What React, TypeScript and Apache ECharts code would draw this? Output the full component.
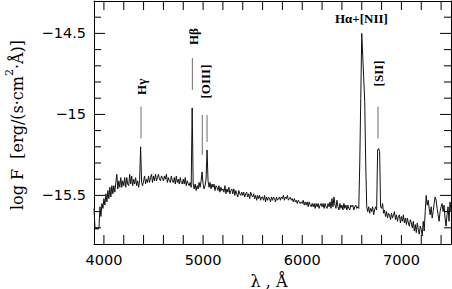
import React, { useEffect, useRef } from "react";
import * as echarts from "echarts";

// Spectrum sampled every 10 Å from 3900 Å
const lambdaStart = 3900;
const lambdaStep = 10;
const logFlux: number[] = [
  -15.58, -15.70, -15.71, -15.70, -15.71, -15.70, -15.57, -15.63, -15.55, -15.58,
  -15.52, -15.56, -15.49, -15.54, -15.47, -15.52, -15.45, -15.51, -15.44, -15.49,
  -15.44, -15.48, -15.42, -15.37, -15.46, -15.41, -15.45, -15.39, -15.45, -15.41,
  -15.44, -15.39, -15.45, -15.39, -15.43, -15.44, -15.37, -15.43, -15.38, -15.44,
  -15.40, -15.43, -15.39, -15.44, -15.41, -15.45, -15.41, -15.20, -15.42, -15.44,
  -15.41, -15.38, -15.43, -15.40, -15.42, -15.38, -15.42, -15.39, -15.37, -15.42,
  -15.38, -15.41, -15.37, -15.41, -15.39, -15.37, -15.40, -15.41, -15.38, -15.39,
  -15.41, -15.38, -15.40, -15.37, -15.42, -15.39, -15.41, -15.42, -15.38, -15.41,
  -15.42, -15.39, -15.43, -15.38, -15.42, -15.40, -15.43, -15.39, -15.42, -15.43,
  -15.40, -15.43, -15.39, -15.44, -15.41, -15.43, -15.44, -15.42, -15.45, -14.96,
  -15.43, -15.46, -15.43, -15.47, -15.44, -15.46, -15.42, -15.45, -15.41, -15.355,
  -15.43, -15.46, -15.44, -15.40, -15.22, -15.41, -15.45, -15.42, -15.46, -15.43,
  -15.45, -15.43, -15.47, -15.44, -15.45, -15.47, -15.44, -15.48, -15.45, -15.47,
  -15.46, -15.48, -15.44, -15.49, -15.46, -15.48, -15.45, -15.49, -15.47, -15.46,
  -15.49, -15.46, -15.50, -15.47, -15.49, -15.51, -15.47, -15.49, -15.50, -15.48,
  -15.50, -15.48, -15.51, -15.49, -15.48, -15.51, -15.49, -15.52, -15.48, -15.50,
  -15.51, -15.49, -15.52, -15.50, -15.53, -15.50, -15.52, -15.50, -15.53, -15.51,
  -15.51, -15.53, -15.50, -15.54, -15.51, -15.53, -15.51, -15.52, -15.54, -15.51,
  -15.53, -15.51, -15.52, -15.54, -15.51, -15.53, -15.52, -15.51, -15.53, -15.51,
  -15.52, -15.50, -15.53, -15.51, -15.52, -15.50, -15.53, -15.52, -15.51, -15.53,
  -15.52, -15.54, -15.52, -15.54, -15.53, -15.55, -15.53, -15.54, -15.55, -15.54,
  -15.55, -15.53, -15.56, -15.54, -15.56, -15.54, -15.57, -15.54, -15.56, -15.57,
  -15.55, -15.57, -15.55, -15.58, -15.55, -15.57, -15.55, -15.58, -15.56, -15.55,
  -15.57, -15.55, -15.58, -15.55, -15.57, -15.58, -15.55, -15.57, -15.54, -15.58,
  -15.52, -15.57, -15.51, -15.56, -15.58, -15.53, -15.57, -15.59, -15.55, -15.58,
  -15.56, -15.59, -15.55, -15.58, -15.56, -15.59, -15.56, -15.58, -15.59, -15.56,
  -15.57, -15.56, -15.59, -15.57, -15.56, -15.58, -15.57, -15.58, -15.30, -14.90,
  -14.50, -14.64, -14.78, -14.92, -15.30, -15.57, -15.60, -15.57, -15.61, -15.58,
  -15.60, -15.57, -15.62, -15.59, -15.57, -15.59, -15.22, -15.21, -15.23, -15.57,
  -15.58, -15.55, -15.61, -15.59, -15.63, -15.60, -15.64, -15.61, -15.62, -15.65,
  -15.61, -15.64, -15.62, -15.60, -15.65, -15.62, -15.66, -15.63, -15.62, -15.67,
  -15.63, -15.66, -15.62, -15.67, -15.64, -15.68, -15.64, -15.67, -15.69, -15.65,
  -15.67, -15.70, -15.66, -15.72, -15.68, -15.73, -15.67, -15.71, -15.74, -15.69,
  -15.71, -15.75, -15.66, -15.72, -15.60, -15.50, -15.56, -15.53, -15.58, -15.62,
  -15.57, -15.64, -15.60, -15.55, -15.51, -15.53, -15.58, -15.62, -15.66, -15.60,
  -15.57, -15.55, -15.60, -15.56, -15.64, -15.69, -15.62, -15.57, -15.66, -15.54,
  -15.60,
];

// Line identification markers: wavelength, top and bottom of marker bar
const markerLambda = [4374, 4892, 4992, 5040, 6764];
const markerTop = [-14.952, -14.652, -15.004, -15.004, -14.952];
const markerBottom = [-15.148, -14.849, -15.25, -15.17, -15.148];

// Line labels
const labelText = ["Hγ", "Hβ", "[OIII]", "Hα+[NII]", "[SII]"];
const labelLambda = [4374, 4900, 5029, 6596, 6769];
const labelLogF = [-14.83, -14.52, -14.797, -14.411, -14.747];
const labelVertical = [true, true, true, false, true];

// Axes
const xMin = 3900, xMax = 7500;
const yMin = -15.8, yMax = -14.3;
const xLabelValues = [4000, 5000, 6000, 7000];
const xTickValues = [4000, 4200, 4400, 4600, 4800, 5000, 5200, 5400, 5600, 5800, 6000, 6200, 6400, 6600, 6800, 7000, 7200, 7400];
const yLabelValues = [-15.5, -15, -14.5];
const yMinorTickValues = [-15.7, -15.6, -15.4, -15.3, -15.2, -15.1, -14.9, -14.8, -14.7, -14.6, -14.4];

const fmtY = (v: number) => (v < 0 ? "\u2212" : "") + String(Math.abs(Math.round(v * 10) / 10));
const fmtX = (v: number) => String(Math.round(v));

// grid size and tick lengths (px)
const GRID_W = 357;
const GRID_H = 243;
const X_TICK = 9;
const Y_MINOR = 7;
const Y_MAJOR = 11;

export default function App() {
  const ref = useRef<HTMLDivElement>(null);
  useEffect(() => {
    document.body.style.margin = "0";
    if (!ref.current) return;
    const chart = echarts.init(ref.current, null, { renderer: "svg" });
    const spectrum = logFlux.map((v, i) => [lambdaStart + i * lambdaStep, v]);
    const markers = markerLambda.map((l, i) => [l, markerTop[i], markerBottom[i]]);
    const labels = labelText.map((t, i) => [labelLambda[i], labelLogF[i], i]);

    // Tick marks as short two-point line series (tick length converted from px to data units)
    const dyTick = (X_TICK * (yMax - yMin)) / GRID_H;
    const tickSeg = (pts: number[][]) => ({
      type: "line",
      data: pts,
      symbol: "none",
      showSymbol: false,
      silent: true,
      clip: false,
      z: 6,
      lineStyle: { color: "#000", width: 1 },
      xAxisIndex: 0,
      yAxisIndex: 0,
    });
    const tickSeries: any[] = [];
    xTickValues.forEach((v) => {
      tickSeries.push(tickSeg([[v, yMin], [v, yMin + dyTick]]));
      tickSeries.push(tickSeg([[v, yMax], [v, yMax - dyTick]]));
    });
    const addY = (v: number, lenPx: number) => {
      const dx = (lenPx * (xMax - xMin)) / GRID_W;
      tickSeries.push(tickSeg([[xMin, v], [xMin + dx, v]]));
      tickSeries.push(tickSeg([[xMax, v], [xMax - dx, v]]));
    };
    yMinorTickValues.forEach((v) => addY(v, Y_MINOR));
    yLabelValues.forEach((v) => addY(v, Y_MAJOR));

    const axisLineStyle = () => ({ show: true, lineStyle: { color: "#000", width: 1 } });
    chart.setOption({
      animation: false,
      grid: { left: 94, top: 1, width: GRID_W, height: GRID_H, containLabel: false },
      xAxis: [
        {
          type: "value",
          min: xMin,
          max: xMax,
          position: "bottom",
          splitLine: { show: false },
          axisLine: axisLineStyle(),
          axisTick: { show: false },
          axisLabel: {
            show: true,
            customValues: xLabelValues,
            formatter: fmtX,
            margin: 8,
            color: "#000",
            fontFamily: "DejaVu Sans",
            fontSize: 14.5,
          },
        },
        {
          type: "value",
          min: xMin,
          max: xMax,
          position: "top",
          splitLine: { show: false },
          axisLine: axisLineStyle(),
          axisTick: { show: false },
          axisLabel: { show: false },
        },
      ],
      yAxis: [
        {
          type: "value",
          min: yMin,
          max: yMax,
          position: "left",
          splitLine: { show: false },
          axisLine: axisLineStyle(),
          axisTick: { show: false },
          axisLabel: {
            show: true,
            customValues: yLabelValues,
            formatter: fmtY,
            margin: 8,
            color: "#000",
            fontFamily: "DejaVu Sans",
            fontSize: 14.5,
          },
        },
        {
          type: "value",
          min: yMin,
          max: yMax,
          position: "right",
          splitLine: { show: false },
          axisLine: axisLineStyle(),
          axisTick: { show: false },
          axisLabel: { show: false },
        },
      ],
      series: [
        {
          type: "line",
          data: spectrum,
          showSymbol: false,
          symbol: "none",
          lineStyle: { color: "#111", width: 1 },
          xAxisIndex: 0,
          yAxisIndex: 0,
          z: 3,
        },
        ...tickSeries,
        {
          type: "custom",
          data: markers,
          xAxisIndex: 0,
          yAxisIndex: 0,
          renderItem: (params: any, api: any) => {
            const p1 = api.coord([api.value(0), api.value(1)]);
            const p2 = api.coord([api.value(0), api.value(2)]);
            return {
              type: "line",
              shape: { x1: p1[0], y1: p1[1], x2: p2[0], y2: p2[1] },
              style: { stroke: "#6e6e6e", lineWidth: 1 },
            };
          },
        },
        {
          type: "custom",
          data: labels,
          xAxisIndex: 0,
          yAxisIndex: 0,
          renderItem: (params: any, api: any) => {
            const idx = api.value(2);
            const p = api.coord([api.value(0), api.value(1)]);
            const vertical = labelVertical[idx];
            return {
              type: "text",
              x: p[0],
              y: p[1],
              rotation: vertical ? Math.PI / 2 : 0,
              style: {
                text: labelText[idx],
                font: "bold 13px 'Liberation Serif'",
                fill: "#000",
                align: "center",
                verticalAlign: "middle",
              },
            };
          },
        },
      ],
      graphic: [
        {
          type: "text",
          x: 17,
          y: 125,
          rotation: Math.PI / 2,
          style: {
            text: "{a|log F  [erg/(s·cm}{s|2}{a|·Å)]}",
            align: "center",
            verticalAlign: "middle",
            fill: "#000",
            rich: {
              a: { fontFamily: "DejaVu Serif", fontSize: 16, lineHeight: 20, fill: "#000" },
              s: { fontFamily: "DejaVu Serif", fontSize: 11, lineHeight: 12, padding: [0, 0, 16, 0], fill: "#000" },
            },
          },
        },
        {
          type: "text",
          x: 269,
          y: 281,
          style: {
            text: "λ , Å",
            font: "16px 'DejaVu Serif'",
            fill: "#000",
            align: "center",
            verticalAlign: "middle",
          },
        },
      ],
    });
    return () => chart.dispose();
  }, []);
  return <div ref={ref} style={{ width: 452, height: 289 }} />;
}
